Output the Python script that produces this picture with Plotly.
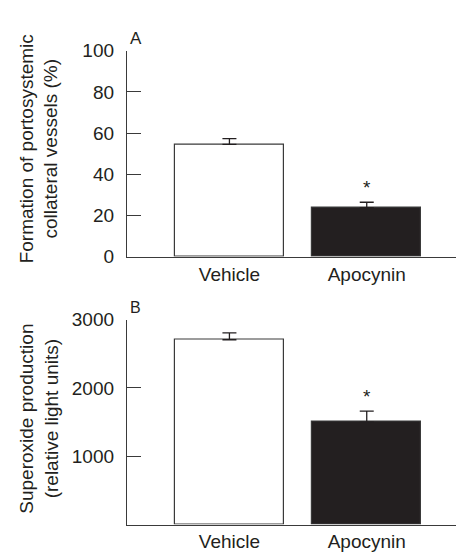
import plotly.graph_objects as go

categories = ["Vehicle", "Apocynin"]
collateral_pct = [54.5, 23.8]
collateral_err = [2.8, 2.6]
superoxide_rlu = [2705, 1500]
superoxide_err = [100, 160]
bar_colors = ["#ffffff", "#231f20"]
y_ticks_a = [0, 20, 40, 60, 80, 100]
y_ticks_b = [1000, 2000, 3000]

INK = "#231f20"
AX = "#3a3a3a"
FONT = "Liberation Sans"
FS = 19

fig = go.Figure()

def add_panel(vals, errs, xa, ya):
    fig.add_trace(go.Bar(
        x=categories, y=vals, xaxis=xa, yaxis=ya,
        marker=dict(color=bar_colors, line=dict(color=AX, width=1.2)),
        width=0.794,
        error_y=dict(type="data", array=errs, arrayminus=[0, 0], symmetric=False,
                     color=INK, thickness=1.3, width=7),
        showlegend=False,
    ))

add_panel(collateral_pct, collateral_err, "x", "y")
add_panel(superoxide_rlu, superoxide_err, "x2", "y2")

xd = [119 / 464, 462 / 464]
ya_dom = [1 - 248 / 553, 1 - 34 / 553]
yb_dom = [1 - 526.5 / 553, 1 - 313.5 / 553]

axis_common = dict(showline=True, linecolor=AX, linewidth=1.3, showgrid=False, zeroline=False,
                   tickfont=dict(family=FONT, size=FS, color=INK))

fig.update_layout(
    width=464, height=553, margin=dict(l=0, r=0, t=0, b=0),
    plot_bgcolor="white", paper_bgcolor="white", bargap=0,
    xaxis=dict(domain=xd, range=[-0.746, 1.752], ticks="", anchor="y", **axis_common),
    yaxis=dict(domain=ya_dom, range=[0, 100], tickvals=y_ticks_a, ticks="inside",
               ticklen=14, tickcolor=AX, tickwidth=1.3, anchor="x", ticklabelstandoff=8,
               **axis_common),
    xaxis2=dict(domain=xd, range=[-0.746, 1.752], ticks="", anchor="y2", **axis_common),
    yaxis2=dict(domain=yb_dom, range=[0, 3000], tickvals=y_ticks_b, ticks="inside",
                ticklen=14, tickcolor=AX, tickwidth=1.3, anchor="x2", ticklabelstandoff=8,
                **axis_common),
)

# right-end up ticks on x axes
for xr, yr, frac in [("x domain", "y domain", 14 / 214), ("x2 domain", "y2 domain", 14 / 213)]:
    fig.add_shape(type="line", xref=xr, yref=yr, x0=1, x1=1, y0=0, y1=frac,
                  line=dict(color="#777777", width=2))

# significance asterisks
fig.add_annotation(x=categories[1], y=collateral_pct[1] + collateral_err[1], xref="x", yref="y",
                   text="*", showarrow=False, yanchor="bottom", yshift=2,
                   font=dict(family=FONT, size=19, color=INK))
fig.add_annotation(x=categories[1], y=superoxide_rlu[1] + superoxide_err[1], xref="x2", yref="y2",
                   text="*", showarrow=False, yanchor="bottom", yshift=2,
                   font=dict(family=FONT, size=19, color=INK))

# panel letters
fig.add_annotation(x=120 / 464, y=1 - 33 / 553, xref="paper", yref="paper", text="A",
                   showarrow=False, xanchor="left", yanchor="bottom",
                   font=dict(family=FONT, size=17, color=INK))
fig.add_annotation(x=120 / 464, y=1 - 312 / 553, xref="paper", yref="paper", text="B",
                   showarrow=False, xanchor="left", yanchor="bottom",
                   font=dict(family=FONT, size=16, color=INK))

# y titles
fig.add_annotation(x=31 / 464, y=1 - 136.5 / 553, xref="paper", yref="paper",
                   text="Formation of portosystemic<br>collateral vessels (%)",
                   textangle=-90, showarrow=False, xanchor="center", yanchor="middle",
                   font=dict(family=FONT, size=FS, color=INK))
fig.add_annotation(x=31 / 464, y=1 - 416.5 / 553, xref="paper", yref="paper",
                   text="Superoxide production<br>(relative light units)",
                   textangle=-90, showarrow=False, xanchor="center", yanchor="middle",
                   font=dict(family=FONT, size=FS, color=INK))

fig.write_html("out.html")
